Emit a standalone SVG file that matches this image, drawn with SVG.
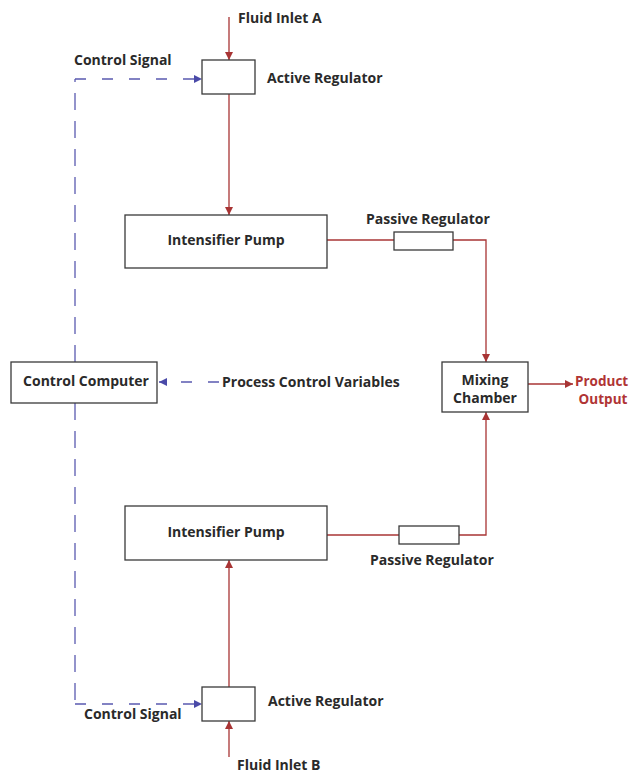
<svg xmlns="http://www.w3.org/2000/svg" width="631" height="774" viewBox="0 0 631 774">
<defs>
<marker id="ar" viewBox="0 0 8 8" refX="8" refY="4" markerWidth="8" markerHeight="8" markerUnits="userSpaceOnUse" orient="auto">
<path d="M0,0 L8,4 L0,8 z" fill="#a83434"/>
</marker>
<marker id="ab" viewBox="0 0 8 8" refX="8" refY="4" markerWidth="8" markerHeight="8" markerUnits="userSpaceOnUse" orient="auto">
<path d="M0,0 L8,4 L0,8 z" fill="#4a4aa8"/>
</marker>
</defs>
<style>
.box{fill:#fff;stroke:#3a3a3a;stroke-width:1.3}
.t{font-family:"Open Sans","Liberation Sans",sans-serif;font-weight:700;font-size:14px;fill:#2a2a2a}
.tr{font-family:"Open Sans","Liberation Sans",sans-serif;font-weight:700;font-size:13.5px;fill:#b03434}
.red{fill:none;stroke:#a83434;stroke-width:1.3}
.blue{fill:none;stroke:#5a5ab0;stroke-width:1.3}
.dv{stroke-dasharray:17 11}
.dh{stroke-dasharray:11 16}
</style>
<rect width="631" height="774" fill="#fff"/>
<g id="connectors">
<path class="red" d="M229,17 V60" marker-end="url(#ar)"/>
<path class="red" d="M229,94 V215" marker-end="url(#ar)"/>
<path class="red" d="M327,240 H394"/>
<path class="red" d="M453,240 H486 V362" marker-end="url(#ar)"/>
<path class="red" d="M327,535 H399"/>
<path class="red" d="M459,535 H486 V412" marker-end="url(#ar)"/>
<path class="red" d="M528,384 H573" marker-end="url(#ar)"/>
<path class="red" d="M229,687 V560" marker-end="url(#ar)"/>
<path class="red" d="M229,757 V721" marker-end="url(#ar)"/>
<path class="blue dh" d="M75,79 H202" marker-end="url(#ab)"/>
<path class="blue dv" d="M75,362 V79"/>
<path class="blue dv" d="M75,403 V704"/>
<path class="blue dh" d="M75,704 H202" marker-end="url(#ab)"/>
<path class="blue dh" d="M219,382 H159" marker-end="url(#ab)"/>
</g>
<g id="active-regulator-a">
<rect class="box" x="202" y="60" width="53" height="34"/>
<text class="t" x="267" y="83">Active Regulator</text>
</g>
<g id="fluid-inlet-a"><text class="t" x="238" y="23">Fluid Inlet A</text></g>
<g id="control-signal-a"><text class="t" x="74" y="65">Control Signal</text></g>
<g id="intensifier-pump-a">
<rect class="box" x="125" y="215" width="202" height="53"/>
<text class="t" x="226" y="245" text-anchor="middle">Intensifier Pump</text>
</g>
<g id="passive-regulator-a">
<rect class="box" x="394" y="232" width="59" height="18"/>
<text class="t" x="366" y="224">Passive Regulator</text>
</g>
<g id="control-computer">
<rect class="box" x="11" y="362" width="146" height="41"/>
<text class="t" x="86" y="386" text-anchor="middle">Control Computer</text>
</g>
<g id="process-control-variables"><text class="t" x="222" y="387">Process Control Variables</text></g>
<g id="mixing-chamber">
<rect class="box" x="442" y="362" width="86" height="50"/>
<text class="t" x="485" y="385" text-anchor="middle">Mixing</text>
<text class="t" x="485" y="403" text-anchor="middle">Chamber</text>
</g>
<g id="product-output">
<text class="tr" x="575" y="386">Product</text>
<text class="tr" x="603" y="404" text-anchor="middle">Output</text>
</g>
<g id="intensifier-pump-b">
<rect class="box" x="125" y="506" width="202" height="54"/>
<text class="t" x="226" y="537" text-anchor="middle">Intensifier Pump</text>
</g>
<g id="passive-regulator-b">
<rect class="box" x="399" y="526" width="60" height="18"/>
<text class="t" x="370" y="565">Passive Regulator</text>
</g>
<g id="active-regulator-b">
<rect class="box" x="202" y="687" width="53" height="34"/>
<text class="t" x="268" y="706">Active Regulator</text>
</g>
<g id="control-signal-b"><text class="t" x="84" y="719">Control Signal</text></g>
<g id="fluid-inlet-b"><text class="t" x="237" y="770">Fluid Inlet B</text></g>
</svg>
